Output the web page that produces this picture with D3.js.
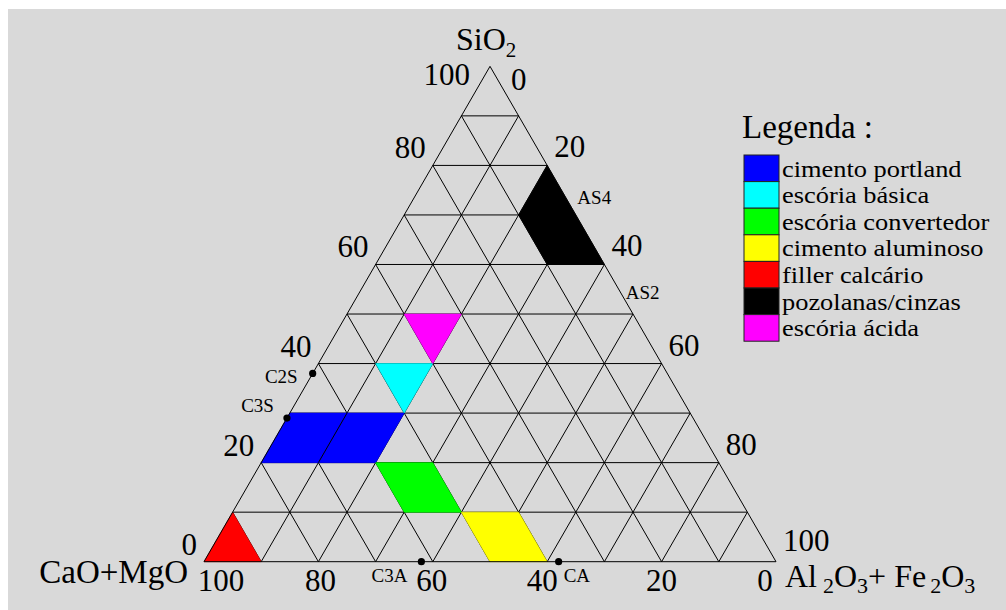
<!DOCTYPE html>
<html>
<head>
<meta charset="utf-8">
<script src="https://cdn.jsdelivr.net/npm/d3@7"></script>
<style>
  body { margin: 0; background: #fff; }
  svg text { font-family: "Liberation Serif", "Times New Roman", serif; fill: #000; }
</style>
</head>
<body>
<div id="main"></div>
<script>
// ternary values in percent: SiO2 (top), Al2O3+Fe2O3 (right); CaO+MgO = 100 - both
const tickValues = [0, 20, 40, 60, 80, 100];

const regionNames = ["cimento portland", "escória básica", "escória convertedor",
                     "cimento aluminoso", "filler calcário", "pozolanas/cinzas", "escória ácida"];
const regionColors = ["#0000ff", "#00ffff", "#00ff00", "#ffff00", "#ff0000", "#000000", "#ff00ff"];
// vertices as [SiO2, Al2O3]
const regionVertices = [
  [[30, 0], [30, 20], [20, 20], [20, 0]],
  [[40, 10], [40, 20], [30, 20]],
  [[20, 20], [20, 30], [10, 40], [10, 30]],
  [[10, 40], [10, 50], [0, 60], [0, 50]],
  [[10, 0], [0, 10], [0, 0]],
  [[80, 20], [60, 40], [60, 30], [70, 20]],
  [[50, 10], [50, 20], [40, 20]]
];
// visible seam inside the portland area
const portlandSeam = [[30, 10], [20, 10]];

const compoundLabels = ["C2S", "C3S", "C3A", "CA", "AS4", "AS2"];
const compoundSiO2 = [38, 29, 0, 0, 74, 55];
const compoundAl = [0, 0, 38, 62, 26, 45];
const compoundDot = [true, true, true, true, false, false];

const width = 1006, height = 610;

const svg = d3.select("#main").append("svg")
  .attr("width", width)
  .attr("height", height);

svg.append("rect")
  .attr("x", 8).attr("y", 9)
  .attr("width", width - 8).attr("height", height - 9)
  .attr("fill", "#d9d9d9");

const side = 572;
const x0 = 204, yBase = 561.7;
const xScale = d3.scaleLinear().domain([0, 100]).range([x0, x0 + side]);
const yScale = d3.scaleLinear().domain([0, 100]).range([yBase, yBase - side * Math.sqrt(3) / 2]);

// s = SiO2, a = Al2O3
const px = (s, a) => xScale(a + s / 2);
const py = (s) => yScale(s);

const line = d3.line().x(d => px(d[0], d[1])).y(d => py(d[0]));

// grid
const gridLines = [];
d3.range(10, 100, 10).forEach(v => {
  gridLines.push([[v, 0], [v, 100 - v]]);          // SiO2 constant
  gridLines.push([[0, v], [100 - v, v]]);          // Al2O3 constant
  gridLines.push([[100 - v, 0], [0, 100 - v]]);    // CaO constant
});

svg.append("g")
  .selectAll("path")
  .data(gridLines)
  .enter()
  .append("path")
  .attr("d", line)
  .attr("fill", "none")
  .attr("stroke", "#000")
  .attr("stroke-width", 1);

// regions
svg.append("g")
  .selectAll("path")
  .data(regionVertices)
  .enter()
  .append("path")
  .attr("d", d => line(d) + "Z")
  .attr("fill", (d, i) => regionColors[i])
  .attr("stroke", (d, i) => regionColors[i])
  .attr("stroke-width", 0.6);

svg.append("path")
  .attr("d", line(portlandSeam))
  .attr("stroke", "#000")
  .attr("stroke-width", 1)
  .attr("fill", "none");

// outer triangle
svg.append("path")
  .attr("d", line([[100, 0], [0, 100], [0, 0]]) + "Z")
  .attr("fill", "none")
  .attr("stroke", "#000")
  .attr("stroke-width", 1);

// tick labels
const bigFont = 31;
const tickG = svg.append("g").style("font-size", bigFont + "px");

tickValues.forEach(v => {
  // left side: SiO2
  let lx = px(v, 0) - 7, ly = py(v) - 7;
  if (v === 100) { lx = px(v, 0) - 20; ly = py(v) + 19; }
  tickG.append("text").attr("x", lx).attr("y", ly)
    .attr("text-anchor", "end").text(v);

  // right side: Al2O3+Fe2O3
  let rx = px(100 - v, v) + 7, ry = py(100 - v) - 8;
  if (v === 0) { rx = px(100, 0) + 21; ry = py(100) + 24; }
  if (v === 100) ry -= 3;
  tickG.append("text").attr("x", rx).attr("y", ry)
    .attr("text-anchor", "start").text(v);
});

const bottomShift = { 100: 17, 80: 2, 60: -1, 40: -5, 20: 0, 0: -11 };
tickValues.forEach(c => {
  tickG.append("text")
    .attr("x", px(0, 100 - c) + bottomShift[c])
    .attr("y", yBase + 29)
    .attr("text-anchor", "middle")
    .text(c);
});

// axis titles
const topTitle = svg.append("text")
  .attr("x", 456).attr("y", 50)
  .style("font-size", "32px");
topTitle.append("tspan").text("SiO");
topTitle.append("tspan").attr("dy", 7).style("font-size", "21px").text("2");

svg.append("text")
  .attr("x", 188).attr("y", 583)
  .attr("text-anchor", "end")
  .style("font-size", "33px")
  .text("CaO+MgO");

const rightTitle = svg.append("text")
  .attr("x", 785).attr("y", 587)
  .style("font-size", "32px");
rightTitle.append("tspan").text("Al");
rightTitle.append("tspan").attr("dx", 6).attr("dy", 6).style("font-size", "22px").text("2");
rightTitle.append("tspan").attr("dy", -6).text("O");
rightTitle.append("tspan").attr("dy", 6).style("font-size", "22px").text("3");
rightTitle.append("tspan").attr("dy", -6).text("+ Fe");
rightTitle.append("tspan").attr("dx", 4).attr("dy", 6).style("font-size", "22px").text("2");
rightTitle.append("tspan").attr("dy", -6).text("O");
rightTitle.append("tspan").attr("dy", 6).style("font-size", "22px").text("3");

// compounds
const labelShift = [[-15, 10], [-13, -6], [-14, 20], [5, 20], [13, 9], [7, 10]];
compoundLabels.forEach((name, i) => {
  const cx = px(compoundSiO2[i], compoundAl[i]);
  const cy = py(compoundSiO2[i]);
  if (compoundDot[i]) {
    svg.append("circle").attr("cx", cx).attr("cy", cy).attr("r", 3.6).attr("fill", "#000");
  }
  const right = labelShift[i][0] > 0;
  svg.append("text")
    .attr("x", cx + labelShift[i][0])
    .attr("y", cy + labelShift[i][1])
    .attr("text-anchor", right ? "start" : "end")
    .style("font-size", "19px")
    .text(name);
});

// legend
const legendX = 744, legendTop = 155, rowH = 26.6;
svg.append("text")
  .attr("x", 742).attr("y", 138)
  .style("font-size", "33px")
  .text("Legenda :");

const legendY = d3.scaleLinear().domain([0, regionNames.length]).range([legendTop, legendTop + rowH * regionNames.length]);

const rows = svg.append("g")
  .selectAll("g")
  .data(regionNames)
  .enter()
  .append("g");

rows.append("rect")
  .attr("x", legendX)
  .attr("y", (d, i) => legendY(i))
  .attr("width", 35)
  .attr("height", rowH)
  .attr("fill", (d, i) => regionColors[i])
  .attr("stroke", "#222")
  .attr("stroke-width", 1);

// slightly widened text so the tall rows do not collide
rows.append("text")
  .attr("transform", (d, i) => `translate(${legendX + 38},${legendY(i) + 21.5}) scale(1.1,1)`)
  .style("font-size", "24px")
  .text(d => d);
</script>
</body>
</html>
